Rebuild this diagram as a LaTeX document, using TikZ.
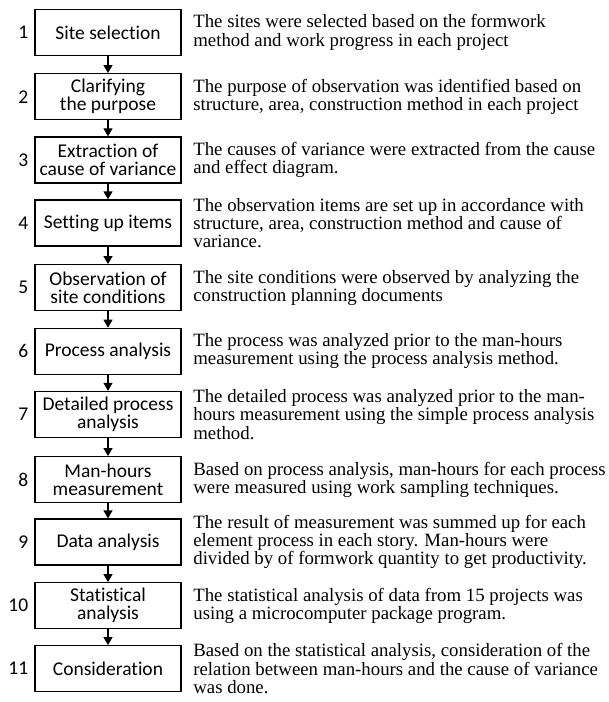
\documentclass[tikz,border=0pt]{standalone}
\usepackage{fontspec}
\setmainfont{Liberation Serif}
\newfontfamily\stagefont[Ligatures={NoCommon,NoContextual}]{Carlito}
\usetikzlibrary{arrows.meta,positioning}

\begin{document}
\begin{tikzpicture}[
    x=1bp, y=-1bp,
    >={Triangle[width=9bp,length=8bp]},
    stage/.style={
        draw,
        line width=1.3bp,
        minimum width=146bp,
        minimum height=46bp,
        inner sep=0pt,
        align=center,
        font=\stagefont\fontsize{19.5bp}{18bp}\selectfont
    },
    num/.style={
        inner sep=0pt,
        font=\stagefont\fontsize{19.5bp}{18bp}\selectfont
    },
    desc/.style={
        inner sep=0pt,
        align=left,
        font=\fontsize{18.8bp}{18.3bp}\selectfont
    },
    arr/.style={
        ->,
        line width=1.3bp
    }
]
    \useasboundingbox (0,0) rectangle (609,702);

    % steps of the study
    \node[stage] (s1) at (108,32.5) {Site selection};
    \node[stage] (s2) at (108,96.7) {Clarifying\\the purpose};
    \node[stage] (s3) at (108,160) {Extraction of\\cause of variance};
    \node[stage] (s4) at (108,223) {Setting up items};
    \node[stage] (s5) at (108,287.7) {Observation of\\site conditions};
    \node[stage] (s6) at (108,351.3) {Process analysis};
    \node[stage] (s7) at (108,414.5) {Detailed process\\analysis};
    \node[stage] (s8) at (108,479.7) {Man-hours\\measurement};
    \node[stage] (s9) at (108,542) {Data analysis};
    \node[stage] (s10) at (108,605.7) {Statistical\\analysis};
    \node[stage] (s11) at (108,668.7) {Consideration};

    % step numbers
    \node[num, left=6bp of s1] (n1) {1};
    \node[num, left=6bp of s2] (n2) {2};
    \node[num, left=6bp of s3] (n3) {3};
    \node[num, left=6bp of s4] (n4) {4};
    \node[num, left=6bp of s5] (n5) {5};
    \node[num, left=6bp of s6] (n6) {6};
    \node[num, left=6bp of s7] (n7) {7};
    \node[num, left=6bp of s8] (n8) {8};
    \node[num, left=6bp of s9] (n9) {9};
    \node[num, left=6bp of s10] (n10) {10};
    \node[num, left=6bp of s11] (n11) {11};

    % descriptions
    \node[desc, right=11.5bp of s1] (d1)
        {The sites were selected based on the formwork\\method and work progress in each project};
    \node[desc, right=11.5bp of s2] (d2)
        {The purpose of observation was identified based on\\structure, area, construction method in each project};
    \node[desc, right=11.5bp of s3] (d3)
        {The causes of variance were extracted from the cause\\and effect diagram.};
    \node[desc, right=11.5bp of s4] (d4)
        {The observation items are set up in accordance with\\structure, area, construction method and cause of\\variance.};
    \node[desc, right=11.5bp of s5] (d5)
        {The site conditions were observed by analyzing the\\construction planning documents};
    \node[desc, right=11.5bp of s6] (d6)
        {The process was analyzed prior to the man-hours\\measurement using the process analysis method.};
    \node[desc, right=11.5bp of s7] (d7)
        {The detailed process was analyzed prior to the man-\\hours measurement using the simple process analysis\\method.};
    \node[desc, right=11.5bp of s8] (d8)
        {Based on process analysis, man-hours for each process\\were measured using work sampling techniques.};
    \node[desc, right=11.5bp of s9] (d9)
        {The result of measurement was summed up for each\\element process in each story. Man-hours were\\divided by of formwork quantity to get productivity.};
    \node[desc, right=11.5bp of s10] (d10)
        {The statistical analysis of data from 15 projects was\\using a microcomputer package program.};
    \node[desc, right=11.5bp of s11] (d11)
        {Based on the statistical analysis, consideration of the\\relation between man-hours and the cause of variance\\was done.};

    \draw[arr] (s1) -- (s2);
    \draw[arr] (s2) -- (s3);
    \draw[arr] (s3) -- (s4);
    \draw[arr] (s4) -- (s5);
    \draw[arr] (s5) -- (s6);
    \draw[arr] (s6) -- (s7);
    \draw[arr] (s7) -- (s8);
    \draw[arr] (s8) -- (s9);
    \draw[arr] (s9) -- (s10);
    \draw[arr] (s10) -- (s11);

\end{tikzpicture}
\end{document}
